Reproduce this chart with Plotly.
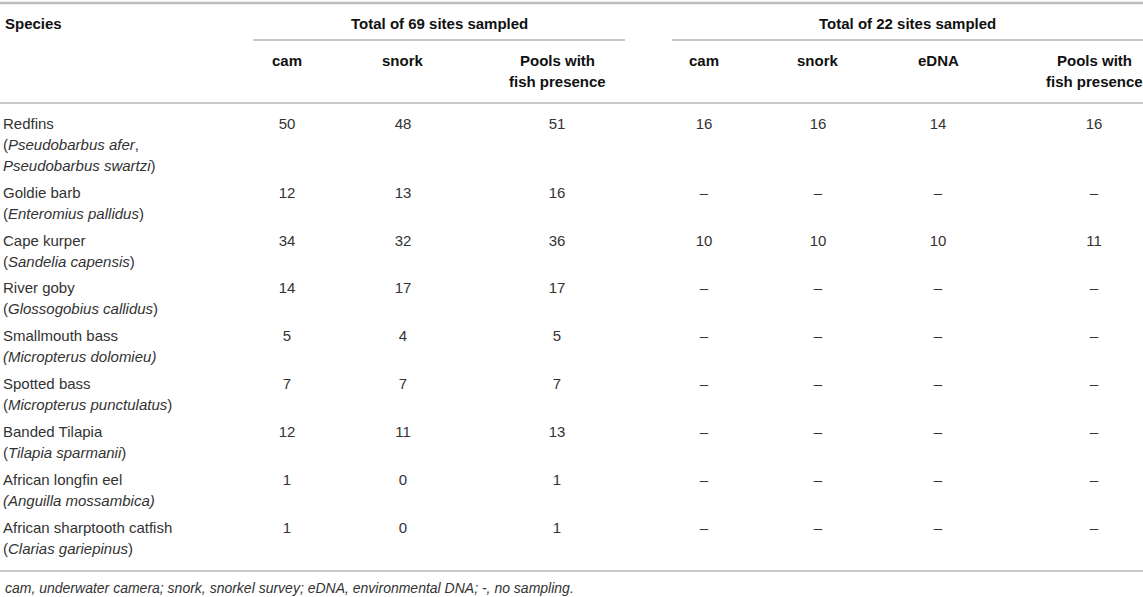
import plotly.graph_objects as go

# ---------------- data ----------------
species = ["Redfins", "Goldie barb", "Cape kurper", "River goby", "Smallmouth bass",
           "Spotted bass", "Banded Tilapia", "African longfin eel", "African sharptooth catfish"]
scientific = [
    ["(<i>Pseudobarbus afer</i>,", "<i>Pseudobarbus swartzi</i>)"],
    ["(<i>Enteromius pallidus</i>)"],
    ["(<i>Sandelia capensis</i>)"],
    ["(<i>Glossogobius callidus</i>)"],
    ["<i>(Micropterus dolomieu)</i>"],
    ["(<i>Micropterus punctulatus</i>)"],
    ["(<i>Tilapia sparmanii</i>)"],
    ["<i>(Anguilla mossambica)</i>"],
    ["(<i>Clarias gariepinus</i>)"],
]
group_titles = ["Total of 69 sites sampled", "Total of 22 sites sampled"]
col_headers = ["cam", "snork", "Pools with<br>fish presence",
               "cam", "snork", "eDNA", "Pools with<br>fish presence"]
cam_69 = [50, 12, 34, 14, 5, 7, 12, 1, 1]
snork_69 = [48, 13, 32, 17, 4, 7, 11, 0, 0]
pools_69 = [51, 16, 36, 17, 5, 7, 13, 1, 1]
cam_22 = [16, None, 10, None, None, None, None, None, None]
snork_22 = [16, None, 10, None, None, None, None, None, None]
edna_22 = [14, None, 10, None, None, None, None, None, None]
pools_22 = [16, None, 11, None, None, None, None, None, None]
footnote = "cam, underwater camera; snork, snorkel survey; eDNA, environmental DNA; -, no sampling."

# ---------------- layout constants ----------------
W, H = 1143, 597
FONT = "Liberation Sans, Arial, sans-serif"
FS = 15
BODY = "#333333"
HEAD = "#111111"
LINE = "#b4b4b4"
col_x = [287, 403, 557, 704, 818, 938, 1094]
group_spans = [(253, 625), (672, W)]
species_x = 3
line_h = 21
row_gap = 5.9
first_row_y = 125

columns = [cam_69, snork_69, pools_69, cam_22, snork_22, edna_22, pools_22]

# row positions
row_y = []
y = first_row_y
for sci in scientific:
    row_y.append(y)
    y += (1 + len(sci)) * line_h + row_gap

fig = go.Figure()

# species names (common + scientific lines)
name_x, name_y, name_t = [], [], []
for i, (sp, sci) in enumerate(zip(species, scientific)):
    lines = [sp] + sci
    for k, t in enumerate(lines):
        name_x.append(species_x)
        name_y.append(row_y[i] + k * line_h)
        name_t.append(t)
fig.add_trace(go.Scatter(x=name_x, y=name_y, text=name_t, mode="text",
                         textposition="middle right",
                         textfont=dict(family=FONT, size=FS, color=BODY),
                         hoverinfo="skip", showlegend=False))

# value columns
for cx, vals in zip(col_x, columns):
    fig.add_trace(go.Scatter(
        x=[cx] * len(vals), y=row_y,
        text=["\u2013" if v is None else str(v) for v in vals],
        mode="text", textposition="middle center",
        textfont=dict(family=FONT, size=FS, color=BODY),
        hoverinfo="skip", showlegend=False))

annotations = []
# header "Species"
annotations.append(dict(x=species_x, y=23, text="<b>Species</b>", xanchor="left",
                        yanchor="middle", showarrow=False,
                        font=dict(family=FONT, size=FS, color=HEAD)))
# group titles
for (x0, x1), t in zip(group_spans, group_titles):
    annotations.append(dict(x=(x0 + x1) / 2, y=23, text=f"<b>{t}</b>", xanchor="center",
                            yanchor="middle", showarrow=False,
                            font=dict(family=FONT, size=FS, color=HEAD)))
# column headers
for cx, t in zip(col_x, col_headers):
    for k, part in enumerate(t.split("<br>")):
        annotations.append(dict(x=cx, y=60 + k * line_h, text=f"<b>{part}</b>",
                                xanchor="center", yanchor="middle", showarrow=False,
                                font=dict(family=FONT, size=FS, color=HEAD)))
# footnote
annotations.append(dict(x=species_x, y=588, text=f"<i>{footnote}</i>", xanchor="left",
                        yanchor="middle", showarrow=False,
                        font=dict(family=FONT, size=FS - 1, color=BODY)))

shapes = [
    dict(type="line", x0=0, x1=W, y0=3, y1=3, line=dict(color="#bdbdbd", width=2.5)),
    dict(type="line", x0=0, x1=W, y0=103, y1=103, line=dict(color=LINE, width=1.5)),
    dict(type="line", x0=0, x1=W, y0=571, y1=571, line=dict(color=LINE, width=1.5)),
]
for x0, x1 in group_spans:
    shapes.append(dict(type="line", x0=x0, x1=x1, y0=40, y1=40,
                       line=dict(color=LINE, width=1.5)))

fig.update_layout(
    width=W, height=H,
    margin=dict(l=0, r=0, t=0, b=0),
    paper_bgcolor="white", plot_bgcolor="white",
    xaxis=dict(range=[0, W], visible=False, fixedrange=True),
    yaxis=dict(range=[H, 0], visible=False, fixedrange=True),
    annotations=annotations, shapes=shapes, showlegend=False,
)
fig.write_html("out.html", config={"displayModeBar": False},
               post_script="document.body.style.margin='0';document.body.style.overflow='hidden';")
